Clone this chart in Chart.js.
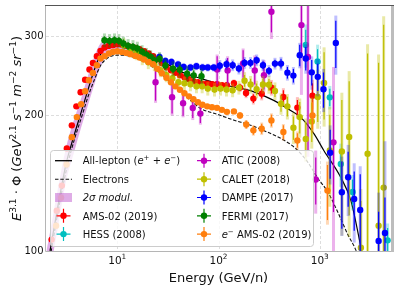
<!DOCTYPE html>
<html><head><meta charset="utf-8">
<script src="https://cdn.jsdelivr.net/npm/chart.js@4.4.1/dist/chart.umd.min.js"></script>
<style>html,body{margin:0;padding:0;background:#fff;overflow:hidden}canvas{display:block}</style>
</head><body>
<canvas id="c" width="396" height="295"></canvas>
<script>
// ---------------- data ----------------
const xTicks = [10, 100, 1000];
const xTickExp = ['1', '2', '3'];
const yTicks = [100, 200, 300];
const yTickLabels = ['100', '200', '300'];

// model curves
const leptonE = [2.17, 2.60, 3.13, 3.67, 4.40, 5.05, 5.79, 6.63, 7.78, 9.77, 13.1, 26.7, 41.9, 66.2, 105, 207, 351, 516, 649, 871, 1096, 1614, 2028, 2547, 2729];
const leptonV = [100.1, 126.1, 156.4, 177.8, 203.2, 225.1, 248.2, 269.4, 283.6, 287.9, 284.3, 265.3, 250.6, 241.8, 234.6, 227.0, 216.0, 205.0, 198.0, 182.4, 167.2, 145.6, 129.4, 101.9, 94.1];
const electronE = [2.22, 2.67, 3.20, 3.75, 4.50, 5.16, 5.92, 6.79, 7.96, 10.0, 13.45, 20.3, 33.5, 52.8, 66.2, 97.8, 140.4, 207, 305, 440, 579, 760, 956, 1204, 1513, 1902, 2279, 2432];
const electronV = [99.6, 126.1, 154.0, 176.0, 200.0, 220.5, 239.4, 257.2, 268.0, 272.2, 270.8, 259.9, 237.0, 216.1, 207.4, 201.1, 195.4, 190.3, 183.6, 176.4, 168.9, 157.5, 145.1, 135.1, 121.7, 108.5, 100.3, 96.0];
const bandE  = [2.0, 2.17, 2.6, 3.13, 3.67, 4.40, 5.05, 5.79, 6.63, 7.78, 9.77, 13.1, 18];
const bandHi = [100, 110, 138, 170, 193, 218, 242, 266, 286, 296, 296, 289, 278];
const bandLo = [85, 91, 113, 143, 163, 188, 208, 230, 252, 271, 280, 280, 274];

// AMS-02 (2019) all-lepton
const amsE = [2.25, 2.53, 2.84, 3.18, 3.56, 3.95, 4.35, 4.82, 5.32, 5.75, 6.29, 6.84, 7.49, 8.20, 9.07, 10.0, 11.1, 12.3, 13.5, 15.1, 16.6, 18.4, 20.4, 22.6, 24.9, 27.6, 30.6, 33.9, 37.5, 41.6, 46.1, 51.1, 56.6, 62.7, 69.4, 77.3, 86.2, 96.6, 108, 121, 142, 163, 187, 221, 267, 333, 437, 601, 847];
const amsV = [106, 122.9, 139.7, 168.9, 190.1, 209.5, 225.1, 240.0, 252.9, 261.6, 270.8, 278.2, 283.1, 285.4, 286.5, 287.9, 287.5, 285.4, 284.0, 282.5, 280.7, 277.8, 274.5, 270.8, 266.6, 261.2, 255.9, 252.0, 248.8, 245.6, 243.1, 240.6, 238.2, 237.0, 235.3, 235.3, 234.5, 234.5, 233.4, 233.4, 235.8, 230.6, 224.3, 218.0, 223.6, 230.6, 219.8, 208.2, 221.3];
const amsStat = [0.01,0.01,0.01,0.01,0.01,0.01,0.01,0.01,0.01,0.01,0.01,0.01,0.01,0.01,0.01,0.01,0.01,0.01,0.01,0.01,0.01,0.01,0.01,0.01,0.01,0.01,0.01,0.01,0.01,0.01,0.01,0.01,0.01,0.01,0.01,0.01,0.012,0.012,0.013,0.014,0.015,0.017,0.02,0.022,0.025,0.03,0.035,0.04,0.065];
const amsSys = [0.012,0.012,0.012,0.012,0.012,0.012,0.012,0.012,0.012,0.012,0.012,0.012,0.012,0.012,0.012,0.012,0.012,0.012,0.012,0.012,0.012,0.012,0.012,0.012,0.012,0.012,0.012,0.012,0.012,0.012,0.012,0.012,0.012,0.012,0.012,0.012,0.015,0.016,0.017,0.018,0.02,0.022,0.026,0.03,0.034,0.04,0.046,0.055,0.085];

// HESS (2008)
const hessE = [727, 951, 1256, 1614, 2109, 4677];
const hessV = [286.9, 263.5, 219.4, 156.0, 135.3, 105.6];
const hessStat = [0.08, 0.065, 0.045, 0.08, 0.065, 0.065];
const hessSys = [0.11, 0.09, 0.06, 0.11, 0.09, 0.09];

// ATIC (2008)
const aticE = [23.9, 34.8, 44.7, 55.7, 66.2, 97.0, 123, 175, 228, 281, 333, 659, 765, 912, 1366];
const aticV = [237.0, 219.6, 213.0, 207.8, 201.9, 252.9, 251.8, 260.8, 251.8, 245.6, 339.8, 317.4, 269.8, 144.1, 174.3];
const aticStat = [0.09, 0.08, 0.063, 0.05, 0.047, 0.07, 0.065, 0.07, 0.07, 0.07, 0.1, 0.15, 0.38, 0.12, 0.3];
const aticSys = [0.1, 0.09, 0.07, 0.06, 0.055, 0.08, 0.075, 0.08, 0.08, 0.08, 0.13, 0.3, 0.4, 0.16, 0.47];

// CALET (2018)
const caletE = [11.65, 13.45, 15.42, 17.68, 20.28, 23.24, 26.66, 30.55, 35.05, 40.18, 46.06, 52.84, 60.57, 68.96, 78.4, 91.3, 104.7, 120, 137.8, 159, 180.9, 207.5, 237.8, 274.6, 314.8, 360.9, 414.2, 478.8, 549.2, 634.4, 727.1, 833.7, 955.2, 1103, 1256, 1652, 1951, 2547, 2966, 3810, 4275];
const caletV = [286.5, 279.2, 274.9, 268.0, 262.6, 259.9, 252.0, 245.6, 241.9, 237.0, 235.8, 234.5, 232.1, 232.1, 229.4, 228.3, 229.4, 228.3, 227.5, 230.6, 238.8, 234.2, 228.6, 234.2, 234.0, 226.6, 212.4, 209.5, 187.8, 198.3, 177.4, 194.0, 219.8, 236.1, 167.2, 166.4, 179.2, 101.7, 164.4, 113.8, 138.3];
const caletStat = [0.015,0.015,0.015,0.015,0.015,0.015,0.015,0.015,0.015,0.015,0.015,0.015,0.015,0.015,0.015,0.015,0.015,0.015,0.015,0.015,0.03,0.03,0.03,0.03,0.03,0.03,0.04,0.05,0.06,0.08,0.09,0.1,0.12,0.17,0.2,0.3,0.33,0.27,0.67,1.3,1.3];
const caletSys = [0.035,0.035,0.035,0.035,0.035,0.035,0.035,0.035,0.035,0.035,0.035,0.035,0.035,0.035,0.035,0.035,0.035,0.035,0.035,0.035,0.045,0.045,0.045,0.045,0.045,0.045,0.055,0.065,0.08,0.1,0.11,0.13,0.15,0.2,0.25,0.35,0.4,0.35,0.75,1.4,1.4];

// DAMPE (2017)
const dampeE = [26.1, 29.9, 34.3, 39.9, 45.3, 52.8, 60.5, 69.5, 78.4, 89.8, 103, 120, 138, 159, 181, 207, 238, 275, 315, 361, 414, 479, 549, 634, 727, 833, 955, 1088, 1266, 1440, 1652, 1906, 2187, 2508, 3811, 4402];
const dampeV = [269.8, 264.3, 263.0, 259.5, 256.3, 255.5, 257.2, 255.6, 255.5, 255.5, 257.8, 259.9, 258.6, 254.2, 261.7, 261.7, 265.2, 258.6, 251.2, 260.7, 260.7, 248.9, 245.2, 272.2, 267.6, 249.3, 243.6, 228.6, 165.3, 289.8, 135.0, 145.8, 130.5, 123.4, 105.3, 109.6];
const dampeStat = [0.012,0.012,0.012,0.012,0.012,0.012,0.012,0.012,0.012,0.012,0.02,0.02,0.02,0.02,0.02,0.02,0.02,0.02,0.02,0.02,0.025,0.03,0.035,0.055,0.06,0.065,0.07,0.09,0.125,0.12,0.17,0.14,0.15,0.2,0.16,0.2];
const dampeSys = [0.02,0.02,0.02,0.02,0.02,0.02,0.02,0.02,0.02,0.02,0.03,0.03,0.03,0.03,0.03,0.03,0.03,0.03,0.03,0.03,0.035,0.04,0.045,0.065,0.075,0.085,0.095,0.11,0.15,0.15,0.2,0.18,0.2,0.25,0.28,0.6];

// FERMI (2017)
const fermiE = [7.48, 8.4, 9.4, 10.4, 11.5, 12.8, 14.3, 15.8, 17.6, 19.4, 21.4, 23.4, 26.2, 29.9, 35.6, 41.4, 49.0, 56.9, 67.9];
const fermiV = [293.9, 292.9, 293.9, 292.9, 289.1, 285.5, 284.0, 281.7, 276.8, 272.9, 269.6, 264.8, 267.2, 258.3, 254.0, 252.6, 247.6, 245.5, 244.4];
const fermiStat = [0.02,0.02,0.02,0.02,0.02,0.02,0.02,0.02,0.02,0.02,0.02,0.02,0.02,0.02,0.022,0.022,0.025,0.025,0.025];
const fermiSys = [0.035,0.035,0.035,0.035,0.035,0.035,0.035,0.035,0.035,0.035,0.035,0.035,0.035,0.035,0.038,0.038,0.04,0.04,0.04];

// e- AMS-02 (2019)
const elE = [2.49, 2.79, 3.16, 3.56, 3.99, 4.40, 4.82, 5.25, 5.75, 6.29, 6.84, 7.49, 8.28, 9.07, 10.0, 11.1, 12.3, 13.5, 15.1, 16.6, 18.4, 20.4, 22.6, 24.9, 27.6, 30.6, 33.9, 37.5, 41.6, 46.1, 51.1, 56.6, 62.7, 69.4, 77.3, 86.2, 96.6, 108, 121, 142, 163, 188, 221, 267, 333, 437, 601, 847, 1191];
const elV = [113.8, 131.4, 155.6, 179.0, 198.3, 211.7, 226.3, 239.4, 248.6, 258.5, 267.6, 270.8, 274.5, 276.8, 277.8, 276.8, 275.4, 273.6, 271.2, 268.9, 266.2, 263.0, 259.9, 254.0, 248.2, 242.5, 237.0, 232.1, 228.0, 224.0, 220.5, 217.2, 213.9, 211.2, 209.5, 208.5, 207.9, 205.8, 203.7, 204.2, 200.0, 191.0, 185.3, 186.9, 195.0, 183.7, 176.0, 200.0, 136.2];
const elStat = [0.01,0.01,0.01,0.01,0.01,0.01,0.01,0.01,0.01,0.01,0.01,0.01,0.01,0.01,0.01,0.01,0.01,0.01,0.01,0.01,0.01,0.01,0.01,0.01,0.01,0.01,0.01,0.01,0.01,0.01,0.01,0.01,0.01,0.01,0.01,0.01,0.01,0.01,0.01,0.01,0.015,0.02,0.022,0.025,0.03,0.035,0.037,0.07,0.14];
const elSys = [0.012,0.012,0.012,0.012,0.012,0.012,0.012,0.012,0.012,0.012,0.012,0.012,0.012,0.012,0.012,0.012,0.012,0.012,0.012,0.012,0.012,0.012,0.012,0.012,0.012,0.012,0.012,0.012,0.012,0.012,0.012,0.012,0.012,0.012,0.012,0.012,0.012,0.012,0.012,0.012,0.018,0.023,0.027,0.032,0.037,0.042,0.047,0.085,0.16];

// ---------------- helpers ----------------
const FONT = '"DejaVu Sans", "Liberation Sans", sans-serif';
const pts = (E, V) => E.map((e, i) => ({x: e, y: V[i]}));

function errSet(label, E, V, stat, sys, color, sysColor, order) {
  return {
    label, data: pts(E, V), order,
    showLine: false, pointRadius: 3.2, pointHoverRadius: 3.2,
    pointBackgroundColor: color, pointBorderWidth: 0, borderColor: color,
    err: {stat, sys, color, sysColor}
  };
}

const datasets = [
  {label: 'band', data: pts(bandE, bandHi), order: 12, showLine: true, fill: '+1',
   backgroundColor: 'rgba(185,70,200,0.45)', borderWidth: 0, pointRadius: 0, cubicInterpolationMode: 'monotone'},
  {label: 'bandLo', data: pts(bandE, bandLo), order: 12, showLine: true, fill: false,
   borderWidth: 0, pointRadius: 0, cubicInterpolationMode: 'monotone'},
  {label: 'Electrons', data: pts(electronE, electronV), order: 10, showLine: true,
   borderColor: '#111', borderWidth: 1.1, borderDash: [3.5, 1.8], pointRadius: 0, cubicInterpolationMode: 'monotone'},
  {label: 'All-lepton', data: pts(leptonE, leptonV), order: 11, showLine: true,
   borderColor: '#000', borderWidth: 1.2, pointRadius: 0, cubicInterpolationMode: 'monotone'},
  errSet('AMS-02 (2019)', amsE, amsV, amsStat, amsSys, '#ff0000', 'rgba(255,0,0,0.25)', 7),
  errSet('HESS (2008)', hessE, hessV, hessStat, hessSys, '#00bfbf', 'rgba(0,191,191,0.3)', 6),
  errSet('ATIC (2008)', aticE, aticV, aticStat, aticSys, '#bf00bf', 'rgba(191,0,191,0.3)', 5),
  errSet('CALET (2018)', caletE, caletV, caletStat, caletSys, '#bfbf00', 'rgba(191,191,0,0.35)', 4),
  errSet('DAMPE (2017)', dampeE, dampeV, dampeStat, dampeSys, '#0000ff', 'rgba(0,0,255,0.25)', 3),
  errSet('FERMI (2017)', fermiE, fermiV, fermiStat, fermiSys, '#008000', 'rgba(0,128,0,0.3)', 2),
  errSet('e- AMS-02 (2019)', elE, elV, elStat, elSys, '#ff7f0e', 'rgba(255,127,14,0.3)', 1)
];

function segFont(s, size) {
  const sz = s.sup ? size * 0.7 : size;
  return (s.it ? 'italic ' : '') + sz + 'px ' + FONT;
}
function richWidth(ctx, segs, size) {
  let w = 0;
  for (const s of segs) { ctx.font = segFont(s, size); w += ctx.measureText(s.t).width; }
  return w;
}
function drawRich(ctx, segs, x, y, size) {
  let cx = x;
  for (const s of segs) {
    ctx.font = segFont(s, size);
    ctx.fillText(s.t, cx, s.sup ? y - size * 0.4 : y);
    cx += ctx.measureText(s.t).width;
  }
  return cx;
}

const errPlugin = {
  id: 'errbars',
  beforeDatasetDraw(chart, args) {
    const ds = chart.data.datasets[args.index];
    if (!ds.err) return;
    const {ctx, chartArea: a, scales: {x, y}} = chart;
    ctx.save();
    ctx.beginPath(); ctx.rect(a.left, a.top, a.right - a.left, a.bottom - a.top); ctx.clip();
    const lo = (v, f) => f >= 0.97 ? 1 : v * (1 - f);
    ds.data.forEach((p, i) => {
      const px = x.getPixelForValue(p.x);
      const fs = ds.err.sys[i], ft = ds.err.stat[i];
      ctx.strokeStyle = ds.err.sysColor; ctx.lineWidth = 3;
      ctx.beginPath();
      ctx.moveTo(px, y.getPixelForValue(lo(p.y, fs)));
      ctx.lineTo(px, y.getPixelForValue(p.y * (1 + fs)));
      ctx.stroke();
      ctx.strokeStyle = ds.err.color; ctx.lineWidth = 1.2;
      ctx.beginPath();
      ctx.moveTo(px, y.getPixelForValue(lo(p.y, ft)));
      ctx.lineTo(px, y.getPixelForValue(p.y * (1 + ft)));
      ctx.stroke();
    });
    ctx.restore();
  }
};

const decoPlugin = {
  id: 'deco',
  beforeDatasetsDraw(chart) {
    const {ctx, chartArea: a, scales: {x, y}} = chart;
    ctx.save();
    ctx.strokeStyle = '#d4d4d4'; ctx.lineWidth = 0.8; ctx.setLineDash([3, 2]);
    xTicks.forEach(t => {
      const px = Math.round(x.getPixelForValue(t)) + 0.5;
      ctx.beginPath(); ctx.moveTo(px, a.top); ctx.lineTo(px, a.bottom); ctx.stroke();
    });
    yTicks.forEach(t => {
      const py = Math.round(y.getPixelForValue(t)) + 0.5;
      ctx.beginPath(); ctx.moveTo(a.left, py); ctx.lineTo(a.right, py); ctx.stroke();
    });
    ctx.restore();
  },
  afterDraw(chart) {
    const {ctx, chartArea: a, scales: {x, y}} = chart;
    ctx.save();
    // frame
    ctx.setLineDash([]);
    ctx.strokeStyle = '#b5b5b5'; ctx.lineWidth = 1;
    ctx.beginPath(); ctx.moveTo(a.left - 0.5, a.top); ctx.lineTo(a.left - 0.5, a.bottom + 0.5); ctx.lineTo(a.right, a.bottom + 0.5); ctx.stroke();
    ctx.strokeStyle = '#bdbdbd'; ctx.lineWidth = 3;
    ctx.beginPath(); ctx.moveTo(a.right + 1.5, a.top - 1); ctx.lineTo(a.right + 1.5, a.bottom + 1); ctx.stroke();
    ctx.strokeStyle = '#555'; ctx.lineWidth = 1.2;
    ctx.beginPath(); ctx.moveTo(a.left - 1, a.top - 0.5); ctx.lineTo(a.right + 3, a.top - 0.5); ctx.stroke();

    ctx.fillStyle = '#111';
    // y tick labels
    ctx.font = '10px ' + FONT; ctx.textAlign = 'right'; ctx.textBaseline = 'middle';
    yTicks.forEach((t, i) => ctx.fillText(yTickLabels[i], a.left - 2.5, y.getPixelForValue(t)));
    // x tick labels 10^n
    ctx.textAlign = 'left'; ctx.textBaseline = 'alphabetic';
    xTicks.forEach((t, i) => {
      const segs = [{t: '10'}, {t: xTickExp[i], sup: true}];
      const w = richWidth(ctx, segs, 10.5);
      drawRich(ctx, segs, x.getPixelForValue(t) - w / 2, a.bottom + 12.5, 10.5);
    });
    // x title
    ctx.font = '13px ' + FONT; ctx.textAlign = 'center';
    ctx.fillText('Energy (GeV/n)', (a.left + a.right) / 2, 282);
    // y title
    const ysegs = [{t: 'E', it: 1}, {t: '3.1', sup: 1}, {t: ' \u00b7 '}, {t: '\u03a6'}, {t: ' ('}, {t: 'GeV', it: 1}, {t: '2.1', sup: 1}, {t: ' '}, {t: 's', it: 1}, {t: '\u22121', sup: 1}, {t: ' '}, {t: 'm', it: 1}, {t: '\u22122', sup: 1}, {t: ' '}, {t: 'sr', it: 1}, {t: '\u22121', sup: 1}, {t: ')'}];
    ctx.textAlign = 'left';
    const yw = richWidth(ctx, ysegs, 13);
    ctx.save();
    ctx.translate(21, (a.top + a.bottom) / 2);
    ctx.rotate(-Math.PI / 2);
    drawRich(ctx, ysegs, -yw / 2, 0, 13);
    ctx.restore();

    // legend
    const L = {x: 50, y: 150, w: 263, h: 96};
    ctx.fillStyle = 'rgba(255,255,255,0.8)'; ctx.strokeStyle = '#cccccc'; ctx.lineWidth = 1;
    ctx.beginPath(); ctx.roundRect(L.x + 0.5, L.y + 0.5, L.w, L.h, 3); ctx.fill(); ctx.stroke();
    const rows = [160.7, 179.2, 197.5, 215.8, 234.1];
    const col1Text = 82.7, col2Text = 221.7, h1 = 63.5, h2 = 204;
    const fs = 10;
    ctx.textBaseline = 'alphabetic';
    const lab = (segs, xx, r) => { ctx.fillStyle = '#111'; drawRich(ctx, segs, xx, r + 3.7, fs); };
    // all-lepton
    ctx.strokeStyle = '#000'; ctx.lineWidth = 1.3; ctx.setLineDash([]);
    ctx.beginPath(); ctx.moveTo(55, rows[0]); ctx.lineTo(72, rows[0]); ctx.stroke();
    lab([{t: 'All-lepton ('}, {t: 'e', it: 1}, {t: '+', sup: 1}, {t: ' + '}, {t: 'e', it: 1}, {t: '\u2212', sup: 1}, {t: ')'}], col1Text, rows[0]);
    // electrons
    ctx.strokeStyle = '#111'; ctx.lineWidth = 1.1; ctx.setLineDash([3.5, 1.8]);
    ctx.beginPath(); ctx.moveTo(55, rows[1]); ctx.lineTo(72, rows[1]); ctx.stroke();
    ctx.setLineDash([]);
    lab([{t: 'Electrons'}], col1Text, rows[1]);
    // band
    ctx.fillStyle = 'rgba(185,70,200,0.45)';
    ctx.fillRect(55, rows[2] - 4.5, 17, 9);
    lab([{t: '2\u03c3 modul.', it: 1}], col1Text, rows[2]);
    // error-bar handles
    const handle = (cx, cy, color) => {
      ctx.strokeStyle = color; ctx.lineWidth = 1.2;
      ctx.beginPath(); ctx.moveTo(cx - 7, cy); ctx.lineTo(cx + 7, cy); ctx.moveTo(cx, cy - 7); ctx.lineTo(cx, cy + 7); ctx.stroke();
      ctx.fillStyle = color; ctx.beginPath(); ctx.arc(cx, cy, 3.2, 0, Math.PI * 2); ctx.fill();
    };
    handle(h1, rows[3], '#ff0000'); lab([{t: 'AMS-02 (2019)'}], col1Text, rows[3]);
    handle(h1, rows[4], '#00bfbf'); lab([{t: 'HESS (2008)'}], col1Text, rows[4]);
    handle(h2, rows[0], '#bf00bf'); lab([{t: 'ATIC (2008)'}], col2Text, rows[0]);
    handle(h2, rows[1], '#bfbf00'); lab([{t: 'CALET (2018)'}], col2Text, rows[1]);
    handle(h2, rows[2], '#0000ff'); lab([{t: 'DAMPE (2017)'}], col2Text, rows[2]);
    handle(h2, rows[3], '#008000'); lab([{t: 'FERMI (2017)'}], col2Text, rows[3]);
    handle(h2, rows[4], '#ff7f0e'); lab([{t: 'e', it: 1}, {t: '\u2212', sup: 1}, {t: ' AMS-02 (2019)'}], col2Text, rows[4]);
    ctx.restore();
  }
};

new Chart(document.getElementById('c').getContext('2d'), {
  type: 'scatter',
  data: {datasets},
  options: {
    responsive: false, animation: false, devicePixelRatio: 1,
    layout: {padding: {left: 46, right: 5, top: 6, bottom: 44}},
    plugins: {legend: {display: false}, tooltip: {enabled: false}},
    scales: {
      x: {type: 'logarithmic', min: 1.98, max: 5050,
          ticks: {display: false}, grid: {display: false, drawTicks: false}, border: {display: false}},
      y: {type: 'logarithmic', min: 100, max: 350,
          ticks: {display: false}, grid: {display: false, drawTicks: false}, border: {display: false}}
    }
  },
  plugins: [errPlugin, decoPlugin]
});
</script>
</body></html>
